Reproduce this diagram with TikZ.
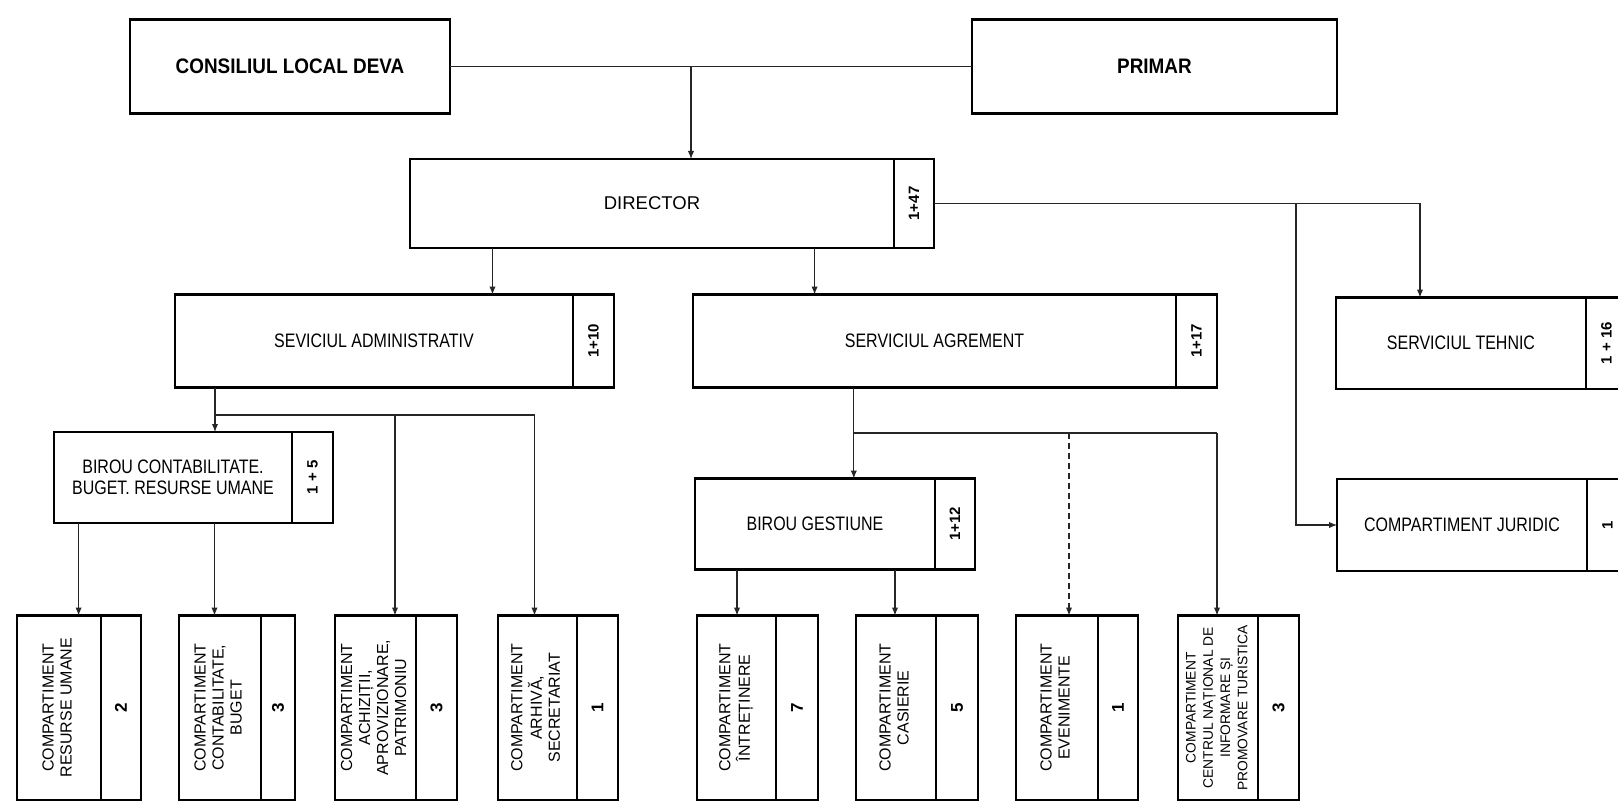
\documentclass[tikz,border=0pt]{standalone}
\usepackage{graphicx}
\usepackage{fontspec}
\setmainfont{Liberation Sans}
\newfontfamily\nar{Liberation Sans}[FakeStretch=0.82]
\newfontfamily\bnar{Liberation Sans}[FakeStretch=0.9]
\usetikzlibrary{arrows.meta}
\newcommand\vtext[1]{\rotatebox{90}{\begin{tabular}{@{}c@{}}#1\end{tabular}}}
% #1 name, #2 x1, #3 y1, #4 x divider, #5 x2, #6 y2, #7 text style, #8 text, #9 staff count
\newcommand\mkbox[9]{%
  \pgfmathsetmacro\mkbw{(#4-#2)*0.5}%
  \pgfmathsetmacro\mkcw{(#5-#4)*0.5}%
  \pgfmathsetmacro\mkbh{(#6-#3)*0.5}%
  \node[box,#7,minimum width=\mkbw pt,minimum height=\mkbh pt] (#1) at (#2,#3) {#8};%
  \node[box,cnt,minimum width=\mkcw pt,minimum height=\mkbh pt] (#1n) at (#4,#3) {\rotatebox{90}{#9}};%
}
\begin{document}
\begin{tikzpicture}[x=0.5pt,y=-0.5pt,
  box/.style={draw,line width=1.2pt,inner sep=0pt,outer sep=0pt,align=center,anchor=north west},
  conn/.style={line width=0.6pt,draw=black!85},
  arr/.style={conn,-{Latex[length=4pt,width=3.2pt]}},
  bld/.style={font=\bnar\bfseries\fontsize{10.5}{12}\selectfont},
  ttl/.style={font=\nar\fontsize{9.75}{10.5}\selectfont},
  dirf/.style={font=\fontsize{9.25}{11}\selectfont},
  sm/.style={font=\fontsize{8}{9}\selectfont},
  smc/.style={font=\fontsize{6.9}{8.6}\selectfont},
  cnt/.style={font=\bfseries\fontsize{7.5}{9}\selectfont},
  cntb/.style={font=\bfseries\fontsize{8.5}{10}\selectfont}]
\useasboundingbox (0,0) rectangle (1618,808);
\fill[white] (0,0) rectangle (1618,808);
\clip (0,0) rectangle (1618,808);

% top level
\node[box,bld,minimum width=160pt,minimum height=47pt] (cons) at (130,19.5) {CONSILIUL LOCAL DEVA};
\node[box,bld,minimum width=182.5pt,minimum height=47pt] (primar) at (972,19.5) {PRIMAR};

\mkbox{dir}{410}{159}{894}{934}{248}{dirf}{DIRECTOR}{1+47}
\mkbox{sa}{175}{294.5}{573}{614}{387.5}{ttl}{SEVICIUL ADMINISTRATIV}{1+10}
\mkbox{sag}{693}{294.5}{1176}{1217}{387.5}{ttl}{SERVICIUL AGREMENT}{1+17}
\mkbox{teh}{1336}{297.5}{1586}{1627}{389}{ttl}{SERVICIUL TEHNIC}{1 + 16}
\mkbox{jur}{1337}{479}{1587}{1628}{571}{ttl}{COMPARTIMENT JURIDIC}{1}
\mkbox{bc}{54}{432}{292}{333}{523}{ttl}{BIROU CONTABILITATE.\\BUGET. RESURSE UMANE}{1 + 5}
\mkbox{bg}{695}{478.5}{935}{975}{569.5}{ttl}{BIROU GESTIUNE}{1+12}

% bottom row
\tikzset{cnt/.style={cntb}}
\mkbox{ru}{17}{615.5}{101}{141}{800}{sm}{\vtext{COMPARTIMENT\\RESURSE UMANE}}{2}
\mkbox{cb}{179}{615.5}{261}{295}{800}{sm}{\vtext{COMPARTIMENT\\CONTABILITATE,\\BUGET}}{3}
\mkbox{ach}{335}{615.5}{416}{457}{800}{sm}{\vtext{COMPARTIMENT\\ACHIZIȚII,\\APROVIZIONARE,\\PATRIMONIU}}{3}
\mkbox{arh}{498}{615.5}{577}{618}{800}{sm}{\vtext{COMPARTIMENT\\ARHIVĂ,\\SECRETARIAT}}{1}
\mkbox{int}{697}{615.5}{776}{818}{800}{sm}{\vtext{COMPARTIMENT\\ÎNTREȚINERE}}{7}
\mkbox{cas}{856}{615.5}{936}{978}{800}{sm}{\vtext{COMPARTIMENT\\CASIERIE}}{5}
\mkbox{eve}{1016}{615.5}{1098}{1138}{800}{sm}{\vtext{COMPARTIMENT\\EVENIMENTE}}{1}
\mkbox{cen}{1178}{615.5}{1258}{1299}{800}{smc}{\vtext{COMPARTIMENT\\CENTRUL NAȚIONAL DE\\INFORMARE ȘI\\PROMOVARE TURISTICA}}{3}

% connector positions
\coordinate (xtop) at (691,0);
\coordinate (xsa) at (492.5,0);
\coordinate (xsag) at (814.6,0);
\coordinate (xteh) at (1420,0);
\coordinate (xjur) at (1296,0);
\coordinate (xbc) at (215,0);
\coordinate (ysa) at (0,415);
\coordinate (xach) at (395,0);
\coordinate (xarh) at (534.5,0);
\coordinate (xru) at (78.6,0);
\coordinate (xcb) at (214.5,0);
\coordinate (xbg) at (853.8,0);
\coordinate (ysag) at (0,433);
\coordinate (xeve) at (1069,0);
\coordinate (xcen) at (1217,0);
\coordinate (xint) at (737,0);
\coordinate (xcas) at (895,0);

% connectors
\draw[conn] (cons.east) -- (primar.west);
\draw[arr] (cons.east -| xtop) -- (dir.north -| xtop);
\draw[arr] (dir.south -| xsa) -- (sa.north -| xsa);
\draw[arr] (dir.south -| xsag) -- (sag.north -| xsag);
\draw[arr] (dirn.east) -| (teh.north -| xteh);
\draw[arr] (dirn.east -| xjur) |- (jur.west);
\draw[arr] (sa.south -| xbc) -- (bc.north -| xbc);
\draw[conn] (xbc |- ysa) -- (xarh |- ysa);
\draw[arr] (xach |- ysa) -- (ach.north -| xach);
\draw[arr] (xarh |- ysa) -- (arh.north -| xarh);
\draw[arr] (bc.south -| xru) -- (ru.north -| xru);
\draw[arr] (bc.south -| xcb) -- (cb.north -| xcb);
\draw[arr] (sag.south -| xbg) -- (bg.north -| xbg);
\draw[conn] (xbg |- ysag) -- (xcen |- ysag);
\draw[arr,dash pattern=on 3pt off 2pt] (xeve |- ysag) -- (eve.north -| xeve);
\draw[arr] (xcen |- ysag) -- (cen.north -| xcen);
\draw[arr] (bg.south -| xint) -- (int.north -| xint);
\draw[arr] (bg.south -| xcas) -- (cas.north -| xcas);
\end{tikzpicture}
\end{document}
